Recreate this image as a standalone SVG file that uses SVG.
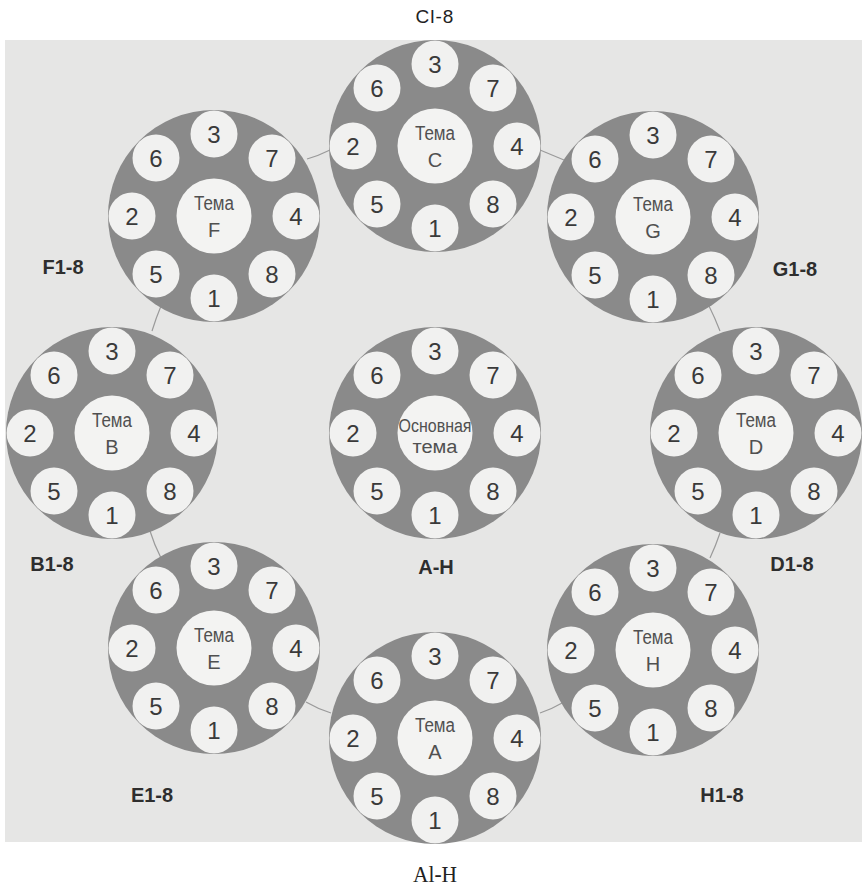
<svg xmlns="http://www.w3.org/2000/svg" width="862" height="887" viewBox="0 0 862 887">
<style>
.big{fill:#8a8a8a}
.sm{fill:#f1f1f0}
.hub{fill:#f3f3f2}
.n{font-family:"Liberation Sans",Arial,sans-serif;font-size:24px;fill:#3a3a3a;text-anchor:middle}
.t{font-family:"Liberation Sans",Arial,sans-serif;font-size:20px;fill:#505050;text-anchor:middle}
.lbl{font-family:"Liberation Sans",Arial,sans-serif;font-size:20px;fill:#2e2e2e;text-anchor:middle;font-weight:600}
.con{fill:none;stroke:#9a9a9a;stroke-width:1.2}
</style>
<rect width="862" height="887" fill="#ffffff"/>
<rect x="5" y="40" width="857" height="802" fill="#e6e6e5"/>
<text x="435" y="23" style="font-family:'Liberation Sans',Arial,sans-serif;font-size:19px;fill:#222;letter-spacing:1px" text-anchor="middle">Cl-8</text>
<text x="435" y="882" style="font-family:'Liberation Serif','Times New Roman',serif;font-size:23px;fill:#222" text-anchor="middle" textLength="44" lengthAdjust="spacingAndGlyphs">Al-H</text>

<g id="connectors">
<path class="con" d="M307,159 Q318,156 330,150"/>
<path class="con" d="M161,306 Q156,318 152,331"/>
<path class="con" d="M150,531 Q154,544 161,558"/>
<path class="con" d="M306,702 Q318,709 331,713"/>
<path class="con" d="M540,713 Q552,709 564,702"/>
<path class="con" d="M720,533 Q716,545 710,558"/>
<path class="con" d="M709,306 Q715,318 720,331"/>
<path class="con" d="M540,150 Q552,155 564,160"/>
</g>

<g id="node-C" transform="translate(435,146)">
<circle class="big" r="106"/><circle class="hub" r="37.5"/>
<circle class="sm" cx="0" cy="-82" r="23.5"/><circle class="sm" cx="58" cy="-58" r="23.5"/><circle class="sm" cx="82" cy="0" r="23.5"/><circle class="sm" cx="58" cy="58" r="23.5"/><circle class="sm" cx="0" cy="82" r="23.5"/><circle class="sm" cx="-58" cy="58" r="23.5"/><circle class="sm" cx="-82" cy="0" r="23.5"/><circle class="sm" cx="-58" cy="-58" r="23.5"/>
<text class="n" x="0" y="-73">3</text><text class="n" x="58" y="-49">7</text><text class="n" x="82" y="9">4</text><text class="n" x="58" y="67">8</text><text class="n" x="0" y="91">1</text><text class="n" x="-58" y="67">5</text><text class="n" x="-82" y="9">2</text><text class="n" x="-58" y="-49">6</text>
<text class="t" x="0" y="-6" textLength="40" lengthAdjust="spacingAndGlyphs">Тема</text><text class="t" x="0" y="21">C</text>
</g>

<g id="node-F" transform="translate(214,216)">
<circle class="big" r="106"/><circle class="hub" r="37.5"/>
<circle class="sm" cx="0" cy="-82" r="23.5"/><circle class="sm" cx="58" cy="-58" r="23.5"/><circle class="sm" cx="82" cy="0" r="23.5"/><circle class="sm" cx="58" cy="58" r="23.5"/><circle class="sm" cx="0" cy="82" r="23.5"/><circle class="sm" cx="-58" cy="58" r="23.5"/><circle class="sm" cx="-82" cy="0" r="23.5"/><circle class="sm" cx="-58" cy="-58" r="23.5"/>
<text class="n" x="0" y="-73">3</text><text class="n" x="58" y="-49">7</text><text class="n" x="82" y="9">4</text><text class="n" x="58" y="67">8</text><text class="n" x="0" y="91">1</text><text class="n" x="-58" y="67">5</text><text class="n" x="-82" y="9">2</text><text class="n" x="-58" y="-49">6</text>
<text class="t" x="0" y="-6" textLength="40" lengthAdjust="spacingAndGlyphs">Тема</text><text class="t" x="0" y="21">F</text>
</g>

<g id="node-G" transform="translate(653,217)">
<circle class="big" r="106"/><circle class="hub" r="37.5"/>
<circle class="sm" cx="0" cy="-82" r="23.5"/><circle class="sm" cx="58" cy="-58" r="23.5"/><circle class="sm" cx="82" cy="0" r="23.5"/><circle class="sm" cx="58" cy="58" r="23.5"/><circle class="sm" cx="0" cy="82" r="23.5"/><circle class="sm" cx="-58" cy="58" r="23.5"/><circle class="sm" cx="-82" cy="0" r="23.5"/><circle class="sm" cx="-58" cy="-58" r="23.5"/>
<text class="n" x="0" y="-73">3</text><text class="n" x="58" y="-49">7</text><text class="n" x="82" y="9">4</text><text class="n" x="58" y="67">8</text><text class="n" x="0" y="91">1</text><text class="n" x="-58" y="67">5</text><text class="n" x="-82" y="9">2</text><text class="n" x="-58" y="-49">6</text>
<text class="t" x="0" y="-6" textLength="40" lengthAdjust="spacingAndGlyphs">Тема</text><text class="t" x="0" y="21">G</text>
</g>

<g id="node-B" transform="translate(112,433)">
<circle class="big" r="106"/><circle class="hub" r="37.5"/>
<circle class="sm" cx="0" cy="-82" r="23.5"/><circle class="sm" cx="58" cy="-58" r="23.5"/><circle class="sm" cx="82" cy="0" r="23.5"/><circle class="sm" cx="58" cy="58" r="23.5"/><circle class="sm" cx="0" cy="82" r="23.5"/><circle class="sm" cx="-58" cy="58" r="23.5"/><circle class="sm" cx="-82" cy="0" r="23.5"/><circle class="sm" cx="-58" cy="-58" r="23.5"/>
<text class="n" x="0" y="-73">3</text><text class="n" x="58" y="-49">7</text><text class="n" x="82" y="9">4</text><text class="n" x="58" y="67">8</text><text class="n" x="0" y="91">1</text><text class="n" x="-58" y="67">5</text><text class="n" x="-82" y="9">2</text><text class="n" x="-58" y="-49">6</text>
<text class="t" x="0" y="-6" textLength="40" lengthAdjust="spacingAndGlyphs">Тема</text><text class="t" x="0" y="21">B</text>
</g>

<g id="node-main" transform="translate(435,433)">
<circle class="big" r="106"/><circle class="hub" r="37.5"/>
<circle class="sm" cx="0" cy="-82" r="23.5"/><circle class="sm" cx="58" cy="-58" r="23.5"/><circle class="sm" cx="82" cy="0" r="23.5"/><circle class="sm" cx="58" cy="58" r="23.5"/><circle class="sm" cx="0" cy="82" r="23.5"/><circle class="sm" cx="-58" cy="58" r="23.5"/><circle class="sm" cx="-82" cy="0" r="23.5"/><circle class="sm" cx="-58" cy="-58" r="23.5"/>
<text class="n" x="0" y="-73">3</text><text class="n" x="58" y="-49">7</text><text class="n" x="82" y="9">4</text><text class="n" x="58" y="67">8</text><text class="n" x="0" y="91">1</text><text class="n" x="-58" y="67">5</text><text class="n" x="-82" y="9">2</text><text class="n" x="-58" y="-49">6</text>
<text class="t" x="0" y="-1" style="font-size:18px" textLength="73" lengthAdjust="spacingAndGlyphs">Основная</text><text class="t" x="0" y="20" style="font-size:18px" textLength="45" lengthAdjust="spacingAndGlyphs">тема</text>
</g>

<g id="node-D" transform="translate(756,433)">
<circle class="big" r="106"/><circle class="hub" r="37.5"/>
<circle class="sm" cx="0" cy="-82" r="23.5"/><circle class="sm" cx="58" cy="-58" r="23.5"/><circle class="sm" cx="82" cy="0" r="23.5"/><circle class="sm" cx="58" cy="58" r="23.5"/><circle class="sm" cx="0" cy="82" r="23.5"/><circle class="sm" cx="-58" cy="58" r="23.5"/><circle class="sm" cx="-82" cy="0" r="23.5"/><circle class="sm" cx="-58" cy="-58" r="23.5"/>
<text class="n" x="0" y="-73">3</text><text class="n" x="58" y="-49">7</text><text class="n" x="82" y="9">4</text><text class="n" x="58" y="67">8</text><text class="n" x="0" y="91">1</text><text class="n" x="-58" y="67">5</text><text class="n" x="-82" y="9">2</text><text class="n" x="-58" y="-49">6</text>
<text class="t" x="0" y="-6" textLength="40" lengthAdjust="spacingAndGlyphs">Тема</text><text class="t" x="0" y="21">D</text>
</g>

<g id="node-E" transform="translate(214,648)">
<circle class="big" r="106"/><circle class="hub" r="37.5"/>
<circle class="sm" cx="0" cy="-82" r="23.5"/><circle class="sm" cx="58" cy="-58" r="23.5"/><circle class="sm" cx="82" cy="0" r="23.5"/><circle class="sm" cx="58" cy="58" r="23.5"/><circle class="sm" cx="0" cy="82" r="23.5"/><circle class="sm" cx="-58" cy="58" r="23.5"/><circle class="sm" cx="-82" cy="0" r="23.5"/><circle class="sm" cx="-58" cy="-58" r="23.5"/>
<text class="n" x="0" y="-73">3</text><text class="n" x="58" y="-49">7</text><text class="n" x="82" y="9">4</text><text class="n" x="58" y="67">8</text><text class="n" x="0" y="91">1</text><text class="n" x="-58" y="67">5</text><text class="n" x="-82" y="9">2</text><text class="n" x="-58" y="-49">6</text>
<text class="t" x="0" y="-6" textLength="40" lengthAdjust="spacingAndGlyphs">Тема</text><text class="t" x="0" y="21">E</text>
</g>

<g id="node-H" transform="translate(653,650)">
<circle class="big" r="106"/><circle class="hub" r="37.5"/>
<circle class="sm" cx="0" cy="-82" r="23.5"/><circle class="sm" cx="58" cy="-58" r="23.5"/><circle class="sm" cx="82" cy="0" r="23.5"/><circle class="sm" cx="58" cy="58" r="23.5"/><circle class="sm" cx="0" cy="82" r="23.5"/><circle class="sm" cx="-58" cy="58" r="23.5"/><circle class="sm" cx="-82" cy="0" r="23.5"/><circle class="sm" cx="-58" cy="-58" r="23.5"/>
<text class="n" x="0" y="-73">3</text><text class="n" x="58" y="-49">7</text><text class="n" x="82" y="9">4</text><text class="n" x="58" y="67">8</text><text class="n" x="0" y="91">1</text><text class="n" x="-58" y="67">5</text><text class="n" x="-82" y="9">2</text><text class="n" x="-58" y="-49">6</text>
<text class="t" x="0" y="-6" textLength="40" lengthAdjust="spacingAndGlyphs">Тема</text><text class="t" x="0" y="21">H</text>
</g>

<g id="node-A" transform="translate(435,738)">
<circle class="big" r="106"/><circle class="hub" r="37.5"/>
<circle class="sm" cx="0" cy="-82" r="23.5"/><circle class="sm" cx="58" cy="-58" r="23.5"/><circle class="sm" cx="82" cy="0" r="23.5"/><circle class="sm" cx="58" cy="58" r="23.5"/><circle class="sm" cx="0" cy="82" r="23.5"/><circle class="sm" cx="-58" cy="58" r="23.5"/><circle class="sm" cx="-82" cy="0" r="23.5"/><circle class="sm" cx="-58" cy="-58" r="23.5"/>
<text class="n" x="0" y="-73">3</text><text class="n" x="58" y="-49">7</text><text class="n" x="82" y="9">4</text><text class="n" x="58" y="67">8</text><text class="n" x="0" y="91">1</text><text class="n" x="-58" y="67">5</text><text class="n" x="-82" y="9">2</text><text class="n" x="-58" y="-49">6</text>
<text class="t" x="0" y="-6" textLength="40" lengthAdjust="spacingAndGlyphs">Тема</text><text class="t" x="0" y="21">A</text>
</g>

<g id="labels">
<text class="lbl" x="63" y="274">F1-8</text>
<text class="lbl" x="795" y="276">G1-8</text>
<text class="lbl" x="52" y="571">B1-8</text>
<text class="lbl" x="792" y="571">D1-8</text>
<text class="lbl" x="436" y="574">A-H</text>
<text class="lbl" x="152" y="802">E1-8</text>
<text class="lbl" x="722" y="802">H1-8</text>
</g>
</svg>
